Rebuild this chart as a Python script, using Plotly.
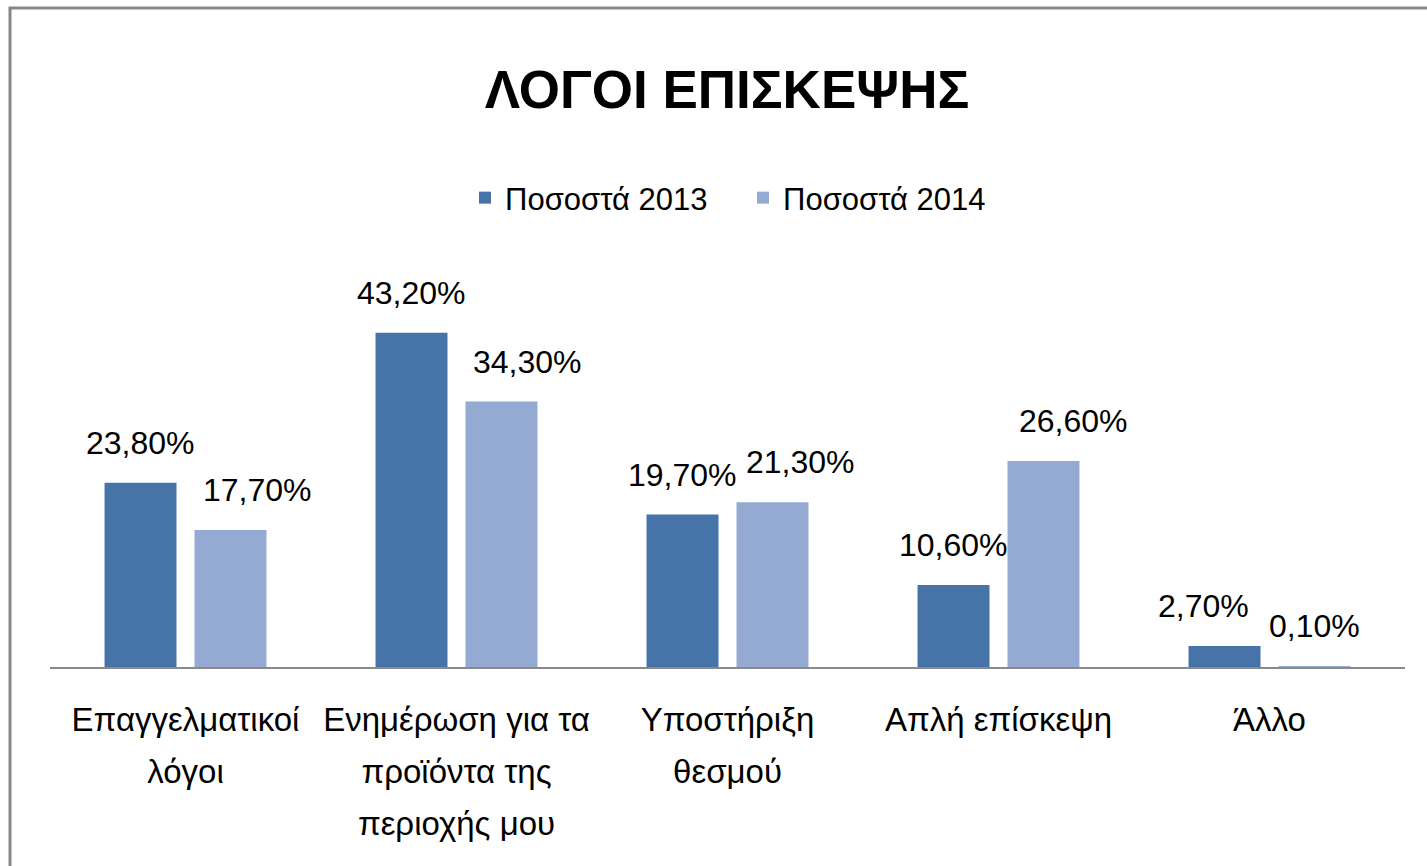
import plotly.graph_objects as go

# ---- data ----
categories = ["Επαγγελματικοί λόγοι", "Ενημέρωση για τα προϊόντα της περιοχής μου",
              "Υποστήριξη θεσμού", "Απλή επίσκεψη", "Άλλο"]
category_lines = [["Επαγγελματικοί", "λόγοι"],
                  ["Ενημέρωση για τα", "προϊόντα της", "περιοχής μου"],
                  ["Υποστήριξη", "θεσμού"],
                  ["Απλή επίσκεψη"],
                  ["Άλλο"]]
series_names = ["Ποσοστά 2013", "Ποσοστά 2014"]
values_2013 = [23.8, 43.2, 19.7, 10.6, 2.7]
values_2014 = [17.7, 34.3, 21.3, 26.6, 0.1]
title_text = "ΛΟΓΟΙ ΕΠΙΣΚΕΨΗΣ"

# ---- style ----
colors = ["#4673A8", "#94AAD2"]
FONT = "Liberation Sans, Arial, sans-serif"
group_shift = [-45, 45]                     # px offset of each series within a group
label_dx = [[0, 0, 0, 0, -21], [27, 26, 28, 30, 0]]   # manual label nudges (px)


def fmt(v):
    return f"{v:.2f}".replace(".", ",") + "%"


def tick(lines):
    return "<br>".join(f"<span style='font-size:33px'>{l}</span>" for l in lines)


fig = go.Figure()
series_vals = [values_2013, values_2014]
for name, vals, col in zip(series_names, series_vals, colors):
    fig.add_trace(go.Bar(
        name=name, x=categories, y=vals, marker=dict(color=col, line=dict(width=0)),
        hoverinfo="x+y",
    ))

annotations = []
for s, vals in enumerate(series_vals):
    for i, (cat, v) in enumerate(zip(categories, vals)):
        annotations.append(dict(
            x=cat, y=v, xref="x", yref="y", text=fmt(v), showarrow=False,
            xanchor="center", yanchor="bottom",
            xshift=group_shift[s] + label_dx[s][i], yshift=20,
            font=dict(family=FONT, size=32, color="#000000"),
        ))

W, H = 1427, 866
L, R, T, B = 50, 22, 280, 199
pw, ph = W - L - R, H - T - B

fig.update_layout(
    width=W, height=H, autosize=False,
    margin=dict(l=L, r=R, t=T, b=B, pad=0),
    paper_bgcolor="white", plot_bgcolor="white",
    barmode="group", bargap=0.336, bargroupgap=0.2,
    title=dict(text=f"<b>{title_text}</b>", x=727 / W, xanchor="center",
               y=1 - 89 / H, yanchor="middle", yref="container",
               font=dict(family=FONT, size=53, color="#000000")),
    legend=dict(orientation="h", x=(475 - 10 - L) / pw, xanchor="left", y=(667 - 198) / ph,
                yanchor="middle", font=dict(family=FONT, size=31, color="#000000"),
                bgcolor="rgba(0,0,0,0)", entrywidth=233, entrywidthmode="pixels"),
    showlegend=True,
    annotations=annotations,
    xaxis=dict(tickvals=categories, ticktext=[tick(c) for c in category_lines],
               tickfont=dict(family=FONT, size=40, color="#000000"),
               showline=True, linecolor="#8A8A8A", linewidth=2, ticks="",
               showgrid=False, zeroline=False, ticklabelstandoff=14),
    yaxis=dict(range=[0, 50], visible=False, showgrid=False, zeroline=False),
    shapes=[dict(type="rect", xref="paper", yref="paper",
                 x0=(10 - L) / pw, x1=1.2, y0=-1.0, y1=(667 - 8) / ph,
                 line=dict(color="#878787", width=3), fillcolor="rgba(0,0,0,0)")],
)

fig.write_html("out.html", config={"displayModeBar": False},
               post_script="document.body.style.margin='0px';")
